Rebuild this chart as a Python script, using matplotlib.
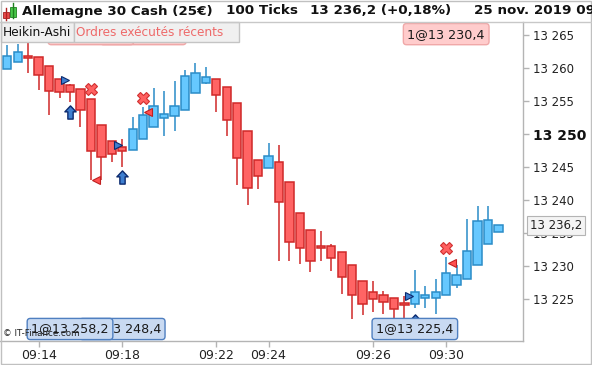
import matplotlib
matplotlib.use('Agg')
import matplotlib.pyplot as plt
from matplotlib.patches import Rectangle
from matplotlib.path import Path
import matplotlib.transforms as mtransforms

# ---------------- data ----------------
opens = [13259.9, 13260.9, 13261.7, 13261.6, 13260.3, 13258.4, 13257.4, 13256.8, 13255.3, 13251.3,
         13248.9, 13248.0, 13247.6, 13249.2, 13251.0, 13252.5, 13252.8, 13253.6, 13256.2, 13257.8,
         13258.3, 13257.1, 13254.7, 13250.4, 13246.0, 13244.9, 13245.7, 13242.7, 13238.1, 13235.4,
         13233.1, 13233.0, 13232.1, 13230.1, 13227.8, 13226.0, 13225.6, 13225.2, 13224.3, 13224.2,
         13225.2, 13225.1, 13225.6, 13227.2, 13228.0, 13230.1, 13233.4, 13235.1]
highs = [13263.5, 13263.6, 13265.5, 13261.6, 13260.3, 13258.4, 13257.6, 13256.8, 13255.3, 13251.3,
         13248.9, 13249.2, 13252.6, 13254.1, 13257.0, 13256.5, 13258.0, 13259.7, 13260.8, 13260.2,
         13258.3, 13257.1, 13254.7, 13250.4, 13246.0, 13248.6, 13248.3, 13242.7, 13238.1, 13235.4,
         13235.3, 13233.3, 13232.1, 13230.1, 13227.8, 13227.8, 13226.2, 13225.2, 13225.5, 13229.4,
         13227.0, 13228.1, 13231.4, 13230.1, 13237.1, 13239.1, 13239.1, 13236.2]
lows = [13259.9, 13260.9, 13259.2, 13256.6, 13252.9, 13255.5, 13254.9, 13251.0, 13243.1, 13243.1,
        13245.7, 13245.0, 13247.6, 13249.2, 13251.0, 13249.7, 13250.5, 13253.6, 13256.2, 13257.6,
        13253.4, 13249.7, 13242.2, 13239.2, 13241.7, 13244.9, 13230.7, 13230.8, 13230.3, 13229.1,
        13230.7, 13229.3, 13225.8, 13221.9, 13222.6, 13223.1, 13222.8, 13222.1, 13222.1, 13223.7,
        13223.7, 13222.7, 13225.6, 13226.6, 13228.0, 13230.1, 13233.4, 13235.1]
closes = [13261.8, 13262.4, 13261.5, 13259.0, 13256.5, 13256.3, 13256.3, 13253.6, 13247.5, 13246.5,
          13246.9, 13247.5, 13250.8, 13252.9, 13254.2, 13253.1, 13254.3, 13258.8, 13259.3, 13258.7,
          13255.9, 13252.1, 13246.3, 13241.8, 13243.7, 13246.6, 13239.7, 13233.6, 13232.7, 13230.7,
          13232.7, 13231.2, 13228.3, 13225.6, 13224.3, 13225.0, 13224.6, 13223.5, 13224.1, 13226.0,
          13225.4, 13226.0, 13228.9, 13228.6, 13232.2, 13236.8, 13236.9, 13236.2]

time_idx = [3, 11, 20, 25, 35, 42]
time_labels = ["09:14", "09:18", "09:22", "09:24", "09:26", "09:30"]
ytick_vals = [13225, 13230, 13235, 13240, 13245, 13250, 13255, 13260, 13265]
last_price = 13236.2

# executed orders
buy_fill_x = [5.55, 10.6, 38.45]
buy_fill_y = [13258.2, 13248.4, 13225.4]
buy_arrow_x = [6, 11, 39]
buy_arrow_y = [13253.3, 13243.5, 13221.6]
sell_fill_x = [8.5, 13.5, 42.55]
sell_fill_y = [13243.1, 13253.3, 13230.4]
sell_x_x = [8, 13, 42]
sell_x_y = [13256.8, 13255.5, 13232.8]
buy_labels = ["1@13 248,4", "1@13 258,2", "1@13 225,4"]
buy_label_x = [11, 6, 39]
sell_labels = ["1@13 253,3", "1@13 243,1", "1@13 230,4"]
sell_label_x = [13, 8, 42]

# ---------------- figure ----------------
W, H = 592, 365
fig = plt.figure(figsize=(W / 100, H / 100), dpi=100)
fig.patch.set_facecolor('white')
ax = fig.add_axes([0 / W, (H - 341) / H, 523 / W, (341 - 22) / H])
ax.set_xlim(-0.7, 49.35)
ax.set_ylim(13218.64, 13266.97)

RED_F, RED_E = '#ff6464', '#d02828'
BLUE_F, BLUE_E = '#66c8ff', '#2a8cc8'

for i, (o, h, l, c) in enumerate(zip(opens, highs, lows, closes)):
    up = c > o
    fc, ec = (BLUE_F, BLUE_E) if up else (RED_F, RED_E)
    bot = min(o, c)
    hgt = max(abs(c - o), 0.35)
    ax.vlines(i, l, bot, color=ec, lw=1.1, zorder=2)
    ax.vlines(i, bot + hgt, h, color=ec, lw=1.1, zorder=2)
    ax.add_patch(Rectangle((i - 0.4, bot), 0.8, hgt, facecolor=fc, edgecolor=ec,
                           lw=1.1, zorder=3))

arrow = Path([(0, 1), (-0.85, 0.1), (-0.4, 0.1), (-0.4, -1), (0.4, -1),
              (0.4, 0.1), (0.85, 0.1), (0, 1)],
             [Path.MOVETO] + [Path.LINETO] * 6 + [Path.CLOSEPOLY])
ax.plot(buy_arrow_x, buy_arrow_y, ls='none', marker=arrow, ms=9.5,
        mfc='#3f7fd0', mec='#0c2a6e', mew=1.0, zorder=4)
ax.plot(buy_fill_x, buy_fill_y, ls='none', marker='>', ms=5.5,
        mfc='#3f7fd0', mec='#0c2a6e', mew=0.8, zorder=4)
ax.plot(sell_fill_x, sell_fill_y, ls='none', marker='<', ms=5.5,
        mfc='#ff5050', mec='#c02020', mew=0.8, zorder=4)
ax.plot(sell_x_x, sell_x_y, ls='none', marker='X', ms=8.5,
        mfc='#ff6060', mec='#d03030', mew=0.8, zorder=4)

trans = mtransforms.blended_transform_factory(ax.transData, ax.transAxes)
for lab, x in zip(buy_labels, buy_label_x):
    ax.text(x, 0.0376, lab, transform=trans, ha='center', va='center', fontsize=9.2,
            color='#1a1a1a', zorder=6, clip_on=False,
            bbox=dict(boxstyle='round,pad=0.32,rounding_size=0.25', fc='#c9daf2',
                      ec='#4f7fc0', lw=1.0))
for lab, x in zip(sell_labels, sell_label_x):
    ax.text(x, 0.962, lab, transform=trans, ha='center', va='center', fontsize=9.2,
            color='#1a1a1a', zorder=6, clip_on=False,
            bbox=dict(boxstyle='round,pad=0.32,rounding_size=0.25', fc='#ffcccc',
                      ec='#f0a8a8', lw=1.0))

# axes styling
for s in ['top', 'left']:
    ax.spines[s].set_visible(False)
for s in ['right', 'bottom']:
    ax.spines[s].set_color('#b4b4b4')
    ax.spines[s].set_linewidth(1.0)
ax.yaxis.tick_right()
ax.set_yticks(ytick_vals)
ax.set_yticklabels([f"{v // 1000} {v % 1000:03d}" for v in ytick_vals])
ax.tick_params(axis='y', length=4, width=1, color='#b4b4b4', pad=3,
               labelsize=8.5, labelcolor='#222222')
for t, v in zip(ax.get_yticklabels(), ytick_vals):
    if v == 13250:
        t.set_fontweight('bold')
        t.set_fontsize(10)
        t.set_color('#111111')
ax.set_xticks(time_idx)
ax.set_xticklabels(time_labels)
ax.tick_params(axis='x', length=4, width=1, color='#b4b4b4', pad=2,
               labelsize=9, labelcolor='#222222')

ytrans = mtransforms.blended_transform_factory(ax.transAxes, ax.transData)
ax.text(530 / 523, last_price, "13 236,2", transform=ytrans, ha='left', va='center',
        fontsize=8.5, color='#222222', zorder=7, clip_on=False,
        bbox=dict(boxstyle='square,pad=0.25', fc='#f4f4f4', ec='#b4b4b4', lw=0.8))

# ---------------- overlay (pixel coordinates) ----------------
ov = fig.add_axes([0, 0, 1, 1], zorder=20)
ov.set_xlim(0, W)
ov.set_ylim(H, 0)
ov.axis('off')
ov.patch.set_alpha(0)

ov.plot([0, W], [21.5, 21.5], color='#c8c8c8', lw=1.0)
ov.add_patch(Rectangle((0.5, 22), 73, 20, fc='#f0f0f0', ec='#c4c4c4', lw=1.0))
ov.add_patch(Rectangle((73.5, 22), 165, 20, fc='#f0f0f0', ec='#c4c4c4', lw=1.0))
ov.text(3, 32, "Heikin-Ashi", fontsize=8.7, color='#111111', va='center', ha='left')
ov.text(76, 32, "Ordres exécutés récents", fontsize=8.7, color='#ee6a6a',
        va='center', ha='left')

# header icon
ov.plot([6.3, 6.3], [8, 20], color='#b02020', lw=1)
ov.add_patch(Rectangle((3.3, 11.7), 6, 6.6, fc='#e84848', ec='#a02020', lw=0.6))
ov.plot([13, 13], [3, 18], color='#208020', lw=1)
ov.add_patch(Rectangle((10, 6.7), 6, 10, fc='#48c848', ec='#208020', lw=0.6))

hdr = dict(fontsize=9.7, fontweight='bold', color='#111111', va='center', ha='left')
ov.text(22.5, 11, "Allemagne 30 Cash (25€)", **hdr)
ov.text(226, 11, "100 Ticks", **hdr)
ov.text(310.5, 11, "13 236,2 (+0,18%)", **hdr)
ov.text(474, 11, "25 nov. 2019 09:31", clip_on=True, **hdr)

ov.text(3, 334, "© IT-Finance.com", fontsize=6.3, color='#222222', va='center', ha='left')

ov.add_patch(Rectangle((0.5, 0.5), 590, 363, fill=False, ec='#c0c0c0', lw=1.0))

fig.savefig('out.png', dpi=100)
